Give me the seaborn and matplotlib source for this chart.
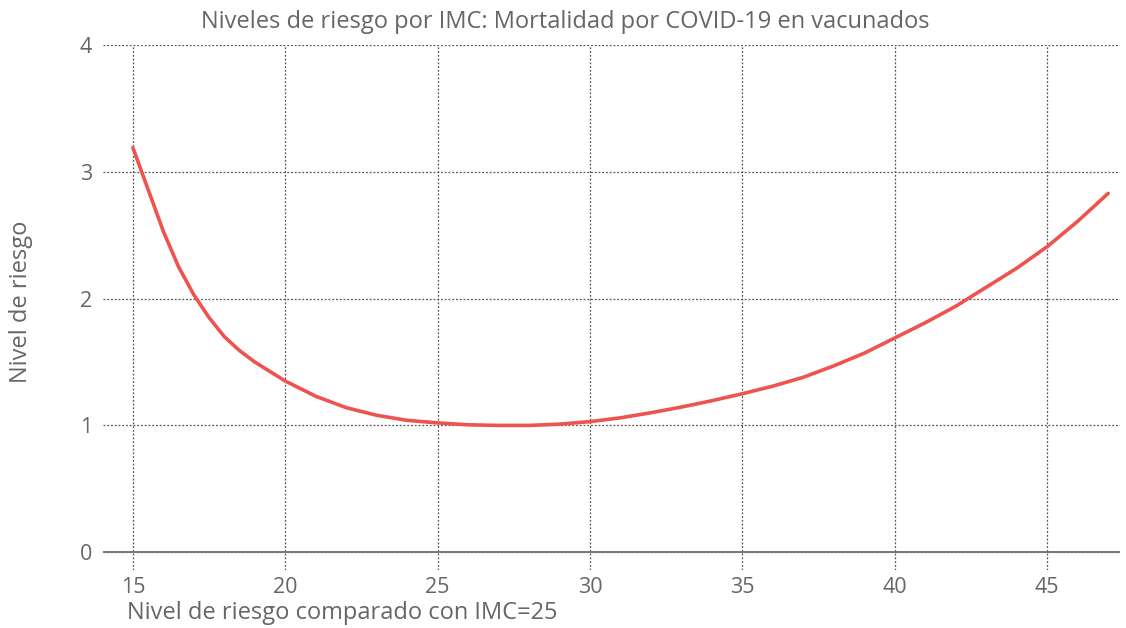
import numpy as np
import pandas as pd
import matplotlib
matplotlib.use("Agg")
import matplotlib.pyplot as plt
import seaborn as sns

# datos
imc = [15, 15.5, 16, 16.5, 17, 17.5, 18, 18.5, 19, 20, 21, 22, 23, 24, 25,
       26, 27, 28, 29, 30, 31, 32, 33, 34, 35, 36, 37, 38, 39, 40, 41, 42,
       43, 44, 45, 46, 47]
riesgo = [3.19, 2.86, 2.53, 2.25, 2.03, 1.85, 1.70, 1.59, 1.50, 1.35, 1.23,
          1.14, 1.08, 1.04, 1.02, 1.005, 1.0, 1.0, 1.01, 1.03, 1.06, 1.10,
          1.145, 1.195, 1.25, 1.31, 1.38, 1.47, 1.57, 1.69, 1.81, 1.94, 2.09,
          2.24, 2.41, 2.61, 2.83]
x_ticks = [15, 20, 25, 30, 35, 40, 45]
y_ticks = [0, 1, 2, 3, 4]

titulo = "Niveles de riesgo por IMC: Mortalidad por COVID-19 en vacunados"
x_label = "Nivel de riesgo comparado con IMC=25"
y_label = "Nivel de riesgo"

df = pd.DataFrame({"imc": imc, "riesgo": riesgo})

sns.set_style("white")
plt.rcParams["font.family"] = ["Open Sans", "DejaVu Sans"]
gris = "#666666"

fig = plt.figure(figsize=(11.26, 6.28), dpi=100)
ax = fig.add_axes([0.0915, 0.0924, 0.9035, 0.8359])

sns.lineplot(data=df, x="imc", y="riesgo", color="#ef5350", lw=2.6, ax=ax,
             zorder=3)

ax.set_xlim(14.02, 47.4)
ax.set_ylim(-0.14, 4)
ax.set_xticks(x_ticks)
ax.set_yticks(y_ticks)
ax.grid(True, linestyle=(0, (1.5, 1.5)), color="#555555", lw=0.9)
ax.axhline(0, color="#777777", lw=1.4, zorder=2)
for s in ax.spines.values():
    s.set_visible(False)
ax.tick_params(axis="both", length=0, labelsize=15.5, colors=gris)
ax.tick_params(axis="x", pad=5)
ax.tick_params(axis="y", pad=8)
ax.set_xlabel("")
ax.set_ylabel("")

fig.text(0.502, 0.965, titulo, ha="center", va="center", fontsize=17,
         color=gris)
fig.text(0.113, 0.024, x_label, ha="left", va="center", fontsize=17,
         color=gris)
fig.text(0.019, 0.52, y_label, ha="center", va="center", rotation=90,
         fontsize=17, color=gris)

fig.savefig("out.png", dpi=100)
